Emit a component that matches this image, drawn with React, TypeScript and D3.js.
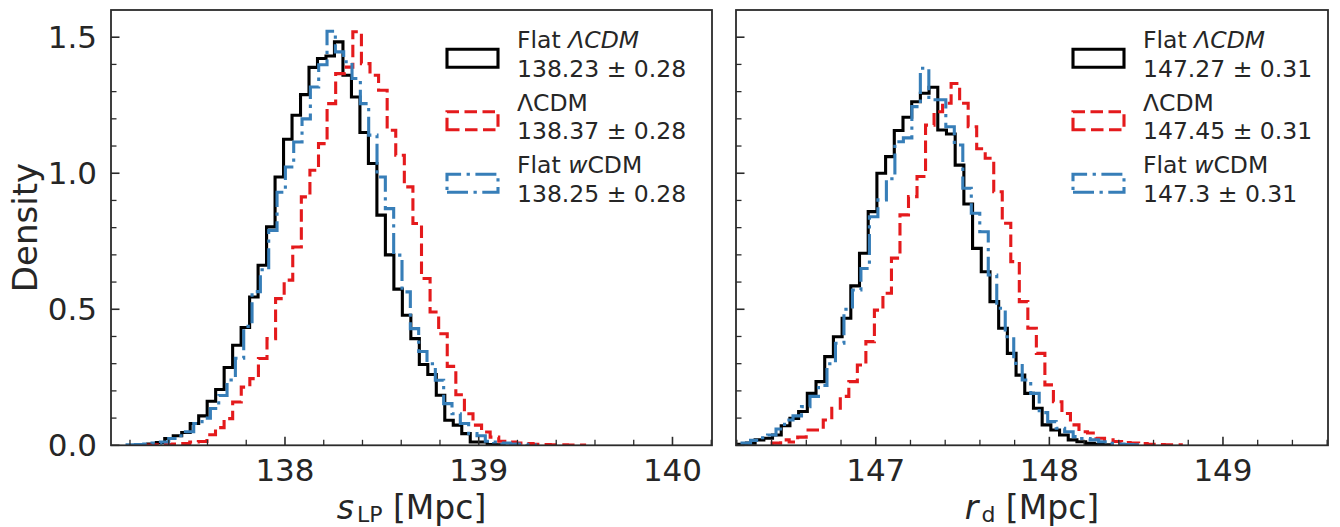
import React from 'react';
import * as d3 from 'd3';

// ---------- DATA ----------
// Left panel: s_LP [Mpc] posterior histograms (density per bin)
const sLpFlatLcdmStart = 137.248;
const sLpFlatLcdmBin = 0.0438;
const sLpFlatLcdm = [0.003, 0.005, 0.01, 0.025, 0.035, 0.047, 0.08, 0.108, 0.162, 0.205, 0.286, 0.368, 0.433, 0.545, 0.662, 0.803, 0.986, 1.125, 1.213, 1.289, 1.389, 1.422, 1.431, 1.483, 1.36, 1.28, 1.15, 1.036, 0.846, 0.70, 0.574, 0.478, 0.392, 0.297, 0.26, 0.184, 0.092, 0.074, 0.043, 0.012, 0.012, 0.003, 0.002];

const sLpLcdmStart = 137.287;
const sLpLcdmBin = 0.0443;
const sLpLcdm = [0.001, 0.002, 0.003, 0.005, 0.006, 0.012, 0.014, 0.039, 0.065, 0.098, 0.159, 0.214, 0.245, 0.319, 0.392, 0.539, 0.607, 0.729, 0.913, 1.011, 1.109, 1.256, 1.366, 1.39, 1.52, 1.403, 1.36, 1.305, 1.158, 1.066, 0.95, 0.815, 0.613, 0.49, 0.41, 0.29, 0.186, 0.116, 0.074, 0.049, 0.03, 0.015, 0.012, 0.008, 0.006, 0.004, 0.003, 0.002, 0.002, 0.001, 0.001];

const sLpFlatWcdmStart = 137.185;
const sLpFlatWcdmBin = 0.043;
const sLpFlatWcdm = [0.002, 0.003, 0.005, 0.008, 0.012, 0.025, 0.035, 0.05, 0.08, 0.10, 0.135, 0.183, 0.24, 0.32, 0.437, 0.565, 0.645, 0.79, 0.93, 1.023, 1.115, 1.20, 1.317, 1.399, 1.522, 1.446, 1.41, 1.348, 1.256, 1.14, 0.986, 0.87, 0.699, 0.564, 0.429, 0.345, 0.30, 0.239, 0.153, 0.116, 0.08, 0.043, 0.035, 0.015, 0.012, 0.008, 0.005, 0.004, 0.002];

// Right panel: r_d [Mpc]
const rdFlatLcdmStart = 146.205;
const rdFlatLcdmBin = 0.0501;
const rdFlatLcdm = [0.004, 0.008, 0.02, 0.026, 0.038, 0.072, 0.099, 0.124, 0.191, 0.234, 0.326, 0.399, 0.467, 0.586, 0.706, 0.859, 1.0, 1.061, 1.157, 1.206, 1.263, 1.294, 1.316, 1.159, 1.144, 1.03, 0.887, 0.724, 0.638, 0.528, 0.43, 0.338, 0.258, 0.191, 0.136, 0.075, 0.056, 0.038, 0.02, 0.013, 0.007, 0.004, 0.002];

const rdLcdmStart = 146.403;
const rdLcdmBin = 0.0491;
const rdLcdm = [0.008, 0.02, 0.012, 0.03, 0.056, 0.056, 0.093, 0.136, 0.18, 0.234, 0.295, 0.381, 0.497, 0.559, 0.688, 0.847, 0.914, 0.988, 1.177, 1.226, 1.257, 1.33, 1.257, 1.171, 1.09, 1.055, 0.932, 0.816, 0.675, 0.528, 0.43, 0.338, 0.222, 0.16, 0.117, 0.075, 0.05, 0.045, 0.026, 0.02, 0.014, 0.01, 0.008, 0.006, 0.004, 0.003, 0.002, 0.002];

const rdFlatWcdmStart = 146.23;
const rdFlatWcdmBin = 0.0489;
const rdFlatWcdm = [0.008, 0.018, 0.028, 0.038, 0.06, 0.093, 0.108, 0.142, 0.18, 0.22, 0.30, 0.375, 0.50, 0.571, 0.65, 0.84, 0.902, 0.98, 1.116, 1.13, 1.245, 1.386, 1.27, 1.27, 1.171, 1.104, 0.945, 0.853, 0.785, 0.626, 0.504, 0.399, 0.301, 0.24, 0.191, 0.12, 0.087, 0.0625, 0.05, 0.032, 0.025, 0.02, 0.013, 0.007, 0.005, 0.003, 0.002];

// Legend / labels
const modelNames = ['Flat', 'Λ', 'Flat'];
const sLpSummaries = ['138.23 ± 0.28', '138.37 ± 0.28', '138.25 ± 0.28'];
const rdSummaries = ['147.27 ± 0.31', '147.45 ± 0.31', '147.3 ± 0.31'];

const leftXTicks = [138, 139, 140];
const rightXTicks = [147, 148, 149];
const yTicks = [0, 0.5, 1.0, 1.5];
const yTickLabels = ['0.0', '0.5', '1.0', '1.5'];

// ---------- STYLE / LAYOUT ----------
const W = 1340;
const H = 527;
const TOP = 10;
const BOTTOM = 445.3;
const FONT = 'DejaVu Sans, Verdana, sans-serif';
const TXT = '#262626';
const SPINE = '#2b2b2b';
const styles = [
  { color: '#000000', dash: undefined as string | undefined },
  { color: '#e41a1c', dash: '12.5,5.5' },
  { color: '#377eb8', dash: '21,5.5,3.3,5.5' },
];

type Series = { start: number; bin: number; values: number[] };

function stepPath(s: Series, x: d3.ScaleLinear<number, number>, y: d3.ScaleLinear<number, number>) {
  const pts: [number, number][] = [[s.start, 0]];
  s.values.forEach((v, i) => pts.push([s.start + i * s.bin, v]));
  pts.push([s.start + s.values.length * s.bin, 0]);
  return d3
    .line<[number, number]>()
    .x((d) => x(d[0]))
    .y((d) => y(d[1]))
    .curve(d3.curveStepAfter)(pts) as string;
}

function LegendLabel({ idx }: { idx: number }) {
  if (idx === 0)
    return (
      <>
        {modelNames[0]} <tspan fontStyle="italic">ΛCDM</tspan>
      </>
    );
  if (idx === 1) return <>ΛCDM</>;
  return (
    <>
      {modelNames[2]} <tspan fontStyle="italic">w</tspan>CDM
    </>
  );
}

function Panel(props: {
  id: string;
  x0: number;
  x1: number;
  domain: [number, number];
  majors: number[];
  series: Series[];
  summaries: string[];
  legendX: number;
  showYLabels: boolean;
  xlabelMain: string;
  xlabelSub: string;
}) {
  const { id, x0, x1, domain, majors, series, summaries, legendX, showYLabels } = props;
  const x = d3.scaleLinear().domain(domain).range([x0, x1]);
  const y = d3.scaleLinear().domain([0, 1.6]).range([BOTTOM, TOP]);
  const minorX = d3
    .range(Math.ceil(domain[0] / 0.2), Math.floor(domain[1] / 0.2) + 1)
    .map((k) => +(k * 0.2).toFixed(1))
    .filter((v) => !majors.some((m) => Math.abs(m - v) < 1e-6));
  const minorY = d3.range(1, 16).map((k) => k / 10).filter((v) => Math.abs(v * 2 - Math.round(v * 2)) > 1e-6);
  const rowY = [48.3, 110.8, 173.3];
  return (
    <g>
      <defs>
        <clipPath id={id}>
          <rect x={x0} y={TOP} width={x1 - x0} height={BOTTOM - TOP} />
        </clipPath>
      </defs>
      <g clipPath={`url(#${id})`}>
        {series.map((s, i) => (
          <path
            key={i}
            d={stepPath(s, x, y)}
            fill="none"
            stroke={styles[i].color}
            strokeWidth={3.1}
            strokeDasharray={styles[i].dash}
            strokeLinejoin="miter"
          />
        ))}
      </g>
      {/* ticks */}
      {majors.map((t) => (
        <line key={'M' + t} x1={x(t)} x2={x(t)} y1={BOTTOM} y2={BOTTOM - 8.5} stroke={SPINE} strokeWidth={1.6} />
      ))}
      {minorX.map((t) => (
        <line key={'m' + t} x1={x(t)} x2={x(t)} y1={BOTTOM} y2={BOTTOM - 5.5} stroke={SPINE} strokeWidth={1.3} />
      ))}
      {yTicks.map((t) => (
        <line key={'YM' + t} x1={x0} x2={x0 + 8.5} y1={y(t)} y2={y(t)} stroke={SPINE} strokeWidth={1.6} />
      ))}
      {minorY.map((t) => (
        <line key={'Ym' + t} x1={x0} x2={x0 + 5.5} y1={y(t)} y2={y(t)} stroke={SPINE} strokeWidth={1.3} />
      ))}
      {majors.map((t) => (
        <text key={'L' + t} x={x(t)} y={480.5} textAnchor="middle" fontSize={31} fill={TXT} fontFamily={FONT}>
          {t}
        </text>
      ))}
      {showYLabels &&
        yTicks.map((t, i) => (
          <text key={'YL' + t} x={x0 - 14} y={y(t)} dy="0.36em" textAnchor="end" fontSize={31} fill={TXT} fontFamily={FONT}>
            {yTickLabels[i]}
          </text>
        ))}
      <rect x={x0} y={TOP} width={x1 - x0} height={BOTTOM - TOP} fill="none" stroke={SPINE} strokeWidth={1.8} />
      {/* legend */}
      {series.map((s, i) => {
        const by = rowY[i];
        const rx0 = legendX;
        const rx1 = legendX + 51;
        const ry0 = by + 1;
        const ry1 = by + 19;
        return (
          <g key={'lg' + i}>
            <path
              d={`M${rx0},${ry1}L${rx1},${ry1}L${rx1},${ry0}L${rx0},${ry0}Z`}
              fill="none"
              stroke={styles[i].color}
              strokeWidth={3.1}
              strokeDasharray={styles[i].dash}
            />
            <text x={legendX + 70} y={by} fontSize={23.5} fill={TXT} fontFamily={FONT}>
              <LegendLabel idx={i} />
            </text>
            <text x={legendX + 70} y={by + 28.5} fontSize={23.5} fill={TXT} fontFamily={FONT}>
              {summaries[i]}
            </text>
          </g>
        );
      })}
      {/* x label */}
      <text x={(x0 + x1) / 2} y={519} textAnchor="middle" fontSize={33} fill={TXT} fontFamily={FONT}>
        <tspan fontStyle="italic">{props.xlabelMain}</tspan>
        <tspan fontSize={22} dx={3} dy={2.5}>
          {props.xlabelSub}
        </tspan>
        <tspan dy={-2.5}> [Mpc]</tspan>
      </text>
    </g>
  );
}

export default function App() {
  const leftSeries: Series[] = [
    { start: sLpFlatLcdmStart, bin: sLpFlatLcdmBin, values: sLpFlatLcdm },
    { start: sLpLcdmStart, bin: sLpLcdmBin, values: sLpLcdm },
    { start: sLpFlatWcdmStart, bin: sLpFlatWcdmBin, values: sLpFlatWcdm },
  ];
  const rightSeries: Series[] = [
    { start: rdFlatLcdmStart, bin: rdFlatLcdmBin, values: rdFlatLcdm },
    { start: rdLcdmStart, bin: rdLcdmBin, values: rdLcdm },
    { start: rdFlatWcdmStart, bin: rdFlatWcdmBin, values: rdFlatWcdm },
  ];
  return (
    <div style={{ position: 'fixed', left: 0, top: 0, width: W, height: H, background: '#fff' }}>
      <svg width={W} height={H} viewBox={`0 0 ${W} ${H}`} style={{ display: 'block' }}>
        <rect width={W} height={H} fill="#fff" />
        <Panel
          id="clipL"
          x0={111}
          x1={712}
          domain={[137.102, 140.204]}
          majors={leftXTicks}
          series={leftSeries}
          summaries={sLpSummaries}
          legendX={447}
          showYLabels={true}
          xlabelMain="s"
          xlabelSub="LP"
        />
        <Panel
          id="clipR"
          x0={736}
          x1={1328}
          domain={[146.195, 149.605]}
          majors={rightXTicks}
          series={rightSeries}
          summaries={rdSummaries}
          legendX={1073}
          showYLabels={false}
          xlabelMain="r"
          xlabelSub="d"
        />
        <text
          transform={`translate(37,227.5) rotate(-90)`}
          textAnchor="middle"
          fontSize={34}
          fill={TXT}
          fontFamily={FONT}
        >
          Density
        </text>
      </svg>
    </div>
  );
}
